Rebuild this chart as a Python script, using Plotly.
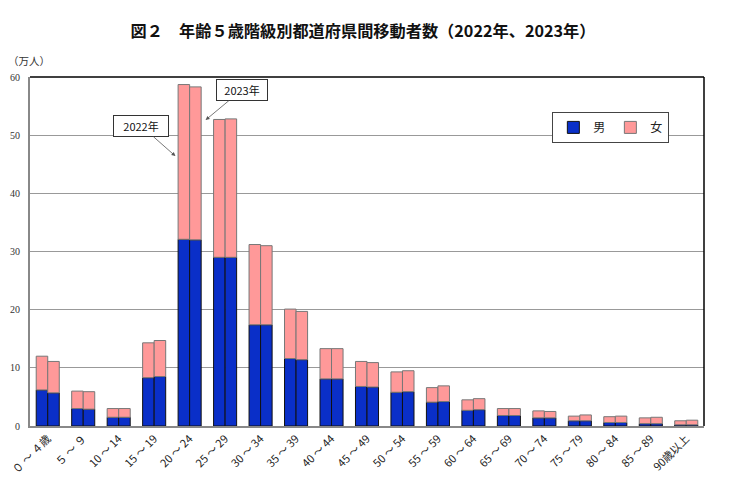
import plotly.graph_objects as go

# 年齢階級
age_groups = ["０ ～ ４歳", "５ ～ ９", "10 ～ 14", "15 ～ 19", "20 ～ 24", "25 ～ 29", "30 ～ 34",
              "35 ～ 39", "40 ～ 44", "45 ～ 49", "50 ～ 54", "55 ～ 59", "60 ～ 64", "65 ～ 69",
              "70 ～ 74", "75 ～ 79", "80 ～ 84", "85 ～ 89", "90歳以上"]

# 万人
male_2022 = [6.2, 3.0, 1.5, 8.3, 32.1, 29.0, 17.4, 11.6, 8.1, 6.8, 5.8, 4.1, 2.7, 1.8, 1.4, 0.9, 0.6, 0.4, 0.2]
female_2022 = [5.8, 3.0, 1.5, 6.0, 26.6, 23.7, 13.8, 8.5, 5.2, 4.3, 3.5, 2.5, 1.8, 1.2, 1.2, 0.8, 1.0, 1.0, 0.7]
male_2023 = [5.7, 2.9, 1.5, 8.5, 32.0, 29.0, 17.4, 11.4, 8.1, 6.7, 5.9, 4.2, 2.8, 1.8, 1.4, 0.9, 0.6, 0.4, 0.2]
female_2023 = [5.4, 3.0, 1.5, 6.2, 26.3, 23.8, 13.6, 8.3, 5.2, 4.2, 3.6, 2.7, 1.9, 1.2, 1.1, 1.0, 1.1, 1.1, 0.8]

BLUE = "#0A2FC8"
PINK = "#FF9999"
FONT = "Noto Sans CJK JP"

fig = go.Figure()

for year, male, female, show in [("2022", male_2022, female_2022, True),
                                 ("2023", male_2023, female_2023, False)]:
    fig.add_trace(go.Bar(
        name="男", x=age_groups, y=male, offsetgroup=year, legendgroup="m",
        showlegend=show, marker=dict(color=BLUE, line=dict(color="#111111", width=1))
    ))
    fig.add_trace(go.Bar(
        name="女", x=age_groups, y=female, base=male, offsetgroup=year, legendgroup="f",
        showlegend=show, marker=dict(color=PINK, line=dict(color="#777777", width=1))
    ))

fig.update_layout(
    width=729, height=488,
    barmode="group", bargap=0.35, bargroupgap=0,
    plot_bgcolor="white", paper_bgcolor="white",
    margin=dict(l=22, r=33, t=69, b=70),
    font=dict(family=FONT, size=11, color="#222222"),
    title=dict(text="<b>図２　年齢５歳階級別都道府県間移動者数（2022年、2023年）</b>",
               x=0.487, xanchor="center", y=0.953, yanchor="middle",
               font=dict(family=FONT, size=16.2, color="#111111")),
    legend=dict(orientation="h", x=0.775, y=0.9, xanchor="left", yanchor="top",
                bordercolor="#444444", borderwidth=1, bgcolor="white",
                font=dict(size=12), itemwidth=30, traceorder="normal"),
    showlegend=True,
)

fig.update_xaxes(showline=True, linecolor="#888888", linewidth=2, tickangle=-45,
                 tickfont=dict(size=11, color="#222222"), ticks="", automargin=False)
fig.update_yaxes(range=[0, 60], dtick=10, showgrid=True, gridcolor="#999999", gridwidth=1,
                 showline=True, linecolor="#888888", linewidth=2, zeroline=False, automargin=False,
                 ticklabelstandoff=6,
                 tickfont=dict(family="Liberation Serif", size=10, color="#333333"), ticks="")

# top and right border
fig.add_shape(type="line", xref="paper", yref="paper", x0=0, x1=1, y0=1, y1=1,
              line=dict(color="black", width=1.5))
fig.add_shape(type="line", xref="paper", yref="paper", x0=1, x1=1, y0=0, y1=1,
              line=dict(color="black", width=1.5))

fig.add_annotation(text="（万人）", xref="paper", yref="paper", x=-0.035, y=1.02,
                   xanchor="left", yanchor="bottom", showarrow=False,
                   font=dict(size=10.5, color="#333333"))

fig.add_annotation(text="2022年", x=3.6, y=46.4, ax=-34, ay=-30, showarrow=True,
                   arrowhead=2, arrowsize=1, arrowwidth=0.8, arrowcolor="#555555",
                   bordercolor="#333333", borderwidth=1, borderpad=2, bgcolor="white",
                   width=50, font=dict(size=11, color="#111111"))
fig.add_annotation(text="2023年", x=4.45, y=52.6, ax=36, ay=-30, showarrow=True,
                   arrowhead=2, arrowsize=1, arrowwidth=0.8, arrowcolor="#555555",
                   bordercolor="#333333", borderwidth=1, borderpad=2, bgcolor="white",
                   width=46, font=dict(size=11, color="#111111"))

fig.write_html("out.html")
